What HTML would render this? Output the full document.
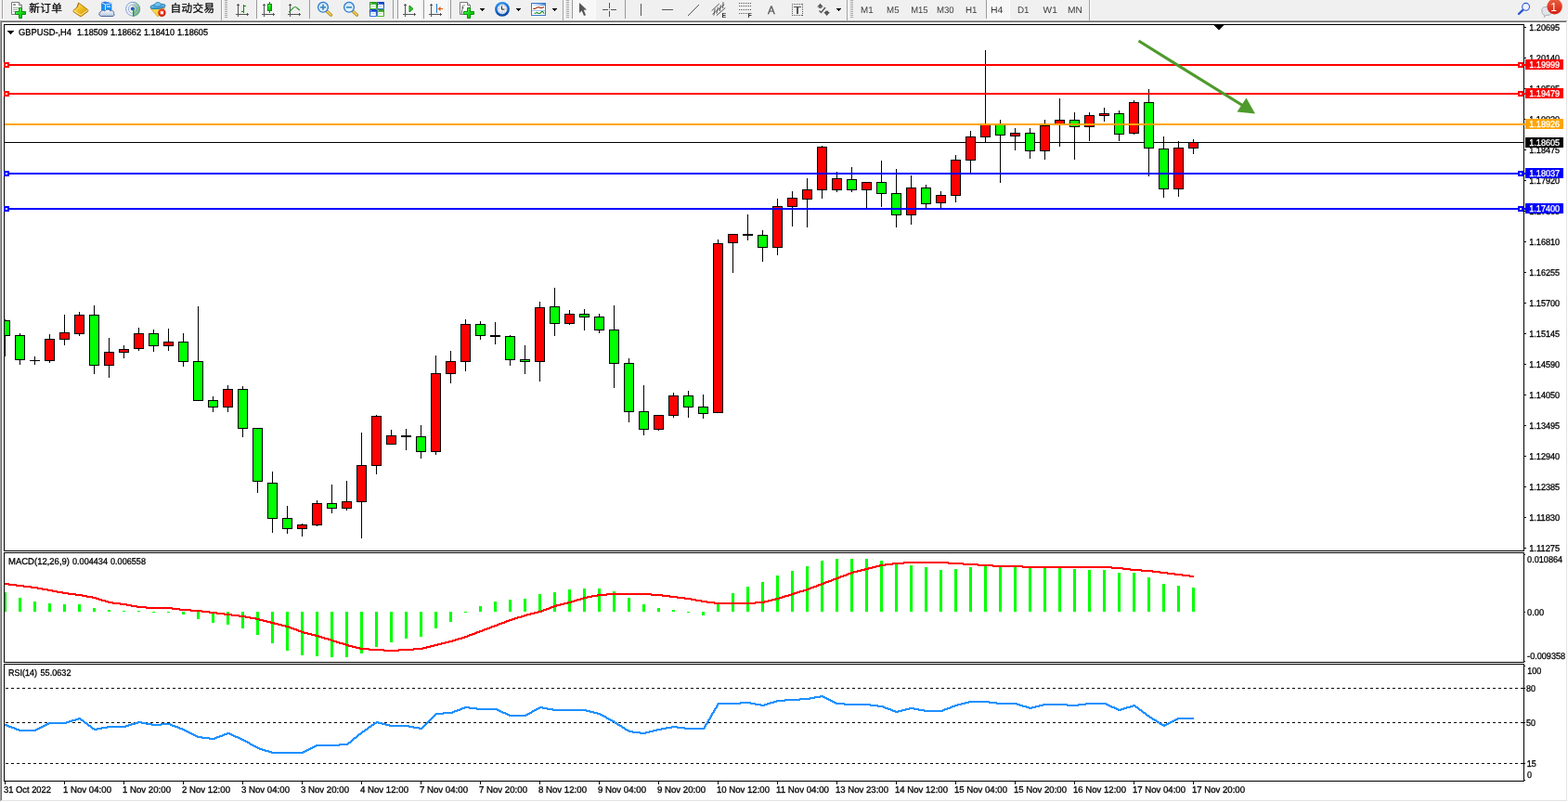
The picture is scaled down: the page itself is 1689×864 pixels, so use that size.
<!DOCTYPE html>
<html lang="zh-CN">
<head>
<meta charset="utf-8">
<title>GBPUSD-,H4</title>
<style>
html,body{margin:0;padding:0;background:#ffffff;overflow:hidden;}
body{width:1689px;height:864px;font-family:"Liberation Sans","Noto Sans CJK SC",sans-serif;}
svg{display:block;position:absolute;left:0;top:0;}
text{white-space:pre;}
</style>
</head>
<body>
<svg width="1689" height="864" viewBox="0 0 1689 864">
<g shape-rendering="crispEdges">
<rect x="0" y="0" width="1689" height="864" fill="#ffffff"/>
<rect x="0" y="0" width="1689" height="22" fill="#f0f0f0"/>
<rect x="0" y="21" width="1689" height="1" fill="#f6f6f6"/>
<rect x="0" y="22" width="1688" height="1" fill="#a0a0a0"/>
<rect x="1" y="23" width="1686" height="1" fill="#696969"/>
<rect x="0" y="22" width="1" height="842" fill="#a0a0a0"/>
<rect x="1" y="23" width="1" height="840" fill="#696969"/>
<rect x="1687" y="23" width="1" height="840" fill="#e3e3e3"/>
<rect x="1" y="862" width="1687" height="1" fill="#e3e3e3"/>
<rect x="1688" y="22" width="1" height="842" fill="#ffffff"/>
<rect x="0" y="863" width="1689" height="1" fill="#ffffff"/>
</g>
<g shape-rendering="crispEdges">
<rect x="5" y="153" width="1636" height="1" fill="#000"/>
<rect x="5" y="344" width="1" height="40" fill="#000"/>
<rect x="5" y="345" width="6" height="17" fill="#000"/>
<rect x="5" y="346" width="5" height="15" fill="#00ff00"/>
<rect x="21" y="359" width="1" height="34" fill="#000"/>
<rect x="16" y="361" width="11" height="27" fill="#000"/>
<rect x="17" y="362" width="9" height="25" fill="#00ff00"/>
<rect x="37" y="384" width="1" height="9" fill="#000"/>
<rect x="32" y="388" width="11" height="1" fill="#000"/>
<rect x="53" y="360" width="1" height="31" fill="#000"/>
<rect x="48" y="365" width="11" height="24" fill="#000"/>
<rect x="49" y="366" width="9" height="22" fill="#ff0000"/>
<rect x="69" y="339" width="1" height="33" fill="#000"/>
<rect x="64" y="358" width="11" height="8" fill="#000"/>
<rect x="65" y="359" width="9" height="6" fill="#ff0000"/>
<rect x="85" y="336" width="1" height="26" fill="#000"/>
<rect x="80" y="339" width="11" height="21" fill="#000"/>
<rect x="81" y="340" width="9" height="19" fill="#ff0000"/>
<rect x="101" y="329" width="1" height="74" fill="#000"/>
<rect x="96" y="339" width="11" height="55" fill="#000"/>
<rect x="97" y="340" width="9" height="53" fill="#00ff00"/>
<rect x="117" y="364" width="1" height="43" fill="#000"/>
<rect x="112" y="379" width="11" height="15" fill="#000"/>
<rect x="113" y="380" width="9" height="13" fill="#ff0000"/>
<rect x="133" y="372" width="1" height="14" fill="#000"/>
<rect x="128" y="376" width="11" height="4" fill="#000"/>
<rect x="129" y="377" width="9" height="2" fill="#ff0000"/>
<rect x="149" y="353" width="1" height="25" fill="#000"/>
<rect x="144" y="359" width="11" height="17" fill="#000"/>
<rect x="145" y="360" width="9" height="15" fill="#ff0000"/>
<rect x="165" y="355" width="1" height="24" fill="#000"/>
<rect x="160" y="359" width="11" height="14" fill="#000"/>
<rect x="161" y="360" width="9" height="12" fill="#00ff00"/>
<rect x="181" y="354" width="1" height="24" fill="#000"/>
<rect x="176" y="368" width="11" height="5" fill="#000"/>
<rect x="177" y="369" width="9" height="3" fill="#ff0000"/>
<rect x="197" y="359" width="1" height="36" fill="#000"/>
<rect x="192" y="368" width="11" height="22" fill="#000"/>
<rect x="193" y="369" width="9" height="20" fill="#00ff00"/>
<rect x="213" y="330" width="1" height="102" fill="#000"/>
<rect x="208" y="389" width="11" height="43" fill="#000"/>
<rect x="209" y="390" width="9" height="41" fill="#00ff00"/>
<rect x="229" y="427" width="1" height="17" fill="#000"/>
<rect x="224" y="431" width="11" height="8" fill="#000"/>
<rect x="225" y="432" width="9" height="6" fill="#00ff00"/>
<rect x="245" y="415" width="1" height="29" fill="#000"/>
<rect x="240" y="419" width="11" height="20" fill="#000"/>
<rect x="241" y="420" width="9" height="18" fill="#ff0000"/>
<rect x="261" y="416" width="1" height="55" fill="#000"/>
<rect x="256" y="419" width="11" height="43" fill="#000"/>
<rect x="257" y="420" width="9" height="41" fill="#00ff00"/>
<rect x="277" y="461" width="1" height="70" fill="#000"/>
<rect x="272" y="461" width="11" height="58" fill="#000"/>
<rect x="273" y="462" width="9" height="56" fill="#00ff00"/>
<rect x="293" y="508" width="1" height="66" fill="#000"/>
<rect x="288" y="520" width="11" height="39" fill="#000"/>
<rect x="289" y="521" width="9" height="37" fill="#00ff00"/>
<rect x="309" y="545" width="1" height="30" fill="#000"/>
<rect x="304" y="558" width="11" height="12" fill="#000"/>
<rect x="305" y="559" width="9" height="10" fill="#00ff00"/>
<rect x="325" y="564" width="1" height="14" fill="#000"/>
<rect x="320" y="565" width="11" height="5" fill="#000"/>
<rect x="321" y="566" width="9" height="3" fill="#ff0000"/>
<rect x="341" y="539" width="1" height="28" fill="#000"/>
<rect x="336" y="542" width="11" height="24" fill="#000"/>
<rect x="337" y="543" width="9" height="22" fill="#ff0000"/>
<rect x="357" y="522" width="1" height="31" fill="#000"/>
<rect x="352" y="542" width="11" height="6" fill="#000"/>
<rect x="353" y="543" width="9" height="4" fill="#00ff00"/>
<rect x="373" y="518" width="1" height="32" fill="#000"/>
<rect x="368" y="540" width="11" height="8" fill="#000"/>
<rect x="369" y="541" width="9" height="6" fill="#ff0000"/>
<rect x="389" y="466" width="1" height="114" fill="#000"/>
<rect x="384" y="501" width="11" height="40" fill="#000"/>
<rect x="385" y="502" width="9" height="38" fill="#ff0000"/>
<rect x="405" y="447" width="1" height="64" fill="#000"/>
<rect x="400" y="448" width="11" height="54" fill="#000"/>
<rect x="401" y="449" width="9" height="52" fill="#ff0000"/>
<rect x="421" y="463" width="1" height="16" fill="#000"/>
<rect x="416" y="469" width="11" height="10" fill="#000"/>
<rect x="417" y="470" width="9" height="8" fill="#ff0000"/>
<rect x="437" y="462" width="1" height="23" fill="#000"/>
<rect x="432" y="469" width="11" height="2" fill="#000"/>
<rect x="453" y="458" width="1" height="36" fill="#000"/>
<rect x="448" y="470" width="11" height="17" fill="#000"/>
<rect x="449" y="471" width="9" height="15" fill="#00ff00"/>
<rect x="469" y="383" width="1" height="107" fill="#000"/>
<rect x="464" y="402" width="11" height="85" fill="#000"/>
<rect x="465" y="403" width="9" height="83" fill="#ff0000"/>
<rect x="485" y="378" width="1" height="35" fill="#000"/>
<rect x="480" y="389" width="11" height="14" fill="#000"/>
<rect x="481" y="390" width="9" height="12" fill="#ff0000"/>
<rect x="501" y="344" width="1" height="56" fill="#000"/>
<rect x="496" y="349" width="11" height="41" fill="#000"/>
<rect x="497" y="350" width="9" height="39" fill="#ff0000"/>
<rect x="517" y="346" width="1" height="20" fill="#000"/>
<rect x="512" y="349" width="11" height="13" fill="#000"/>
<rect x="513" y="350" width="9" height="11" fill="#00ff00"/>
<rect x="533" y="347" width="1" height="24" fill="#000"/>
<rect x="528" y="361" width="11" height="2" fill="#000"/>
<rect x="549" y="361" width="1" height="33" fill="#000"/>
<rect x="544" y="362" width="11" height="26" fill="#000"/>
<rect x="545" y="363" width="9" height="24" fill="#00ff00"/>
<rect x="565" y="372" width="1" height="31" fill="#000"/>
<rect x="560" y="387" width="11" height="3" fill="#000"/>
<rect x="561" y="388" width="9" height="1" fill="#00ff00"/>
<rect x="581" y="325" width="1" height="86" fill="#000"/>
<rect x="576" y="331" width="11" height="59" fill="#000"/>
<rect x="577" y="332" width="9" height="57" fill="#ff0000"/>
<rect x="597" y="310" width="1" height="52" fill="#000"/>
<rect x="592" y="330" width="11" height="19" fill="#000"/>
<rect x="593" y="331" width="9" height="17" fill="#00ff00"/>
<rect x="613" y="334" width="1" height="16" fill="#000"/>
<rect x="608" y="338" width="11" height="11" fill="#000"/>
<rect x="609" y="339" width="9" height="9" fill="#ff0000"/>
<rect x="629" y="333" width="1" height="23" fill="#000"/>
<rect x="624" y="338" width="11" height="4" fill="#000"/>
<rect x="625" y="339" width="9" height="2" fill="#00ff00"/>
<rect x="645" y="338" width="1" height="21" fill="#000"/>
<rect x="640" y="341" width="11" height="15" fill="#000"/>
<rect x="641" y="342" width="9" height="13" fill="#00ff00"/>
<rect x="661" y="329" width="1" height="89" fill="#000"/>
<rect x="656" y="355" width="11" height="37" fill="#000"/>
<rect x="657" y="356" width="9" height="35" fill="#00ff00"/>
<rect x="677" y="386" width="1" height="69" fill="#000"/>
<rect x="672" y="391" width="11" height="53" fill="#000"/>
<rect x="673" y="392" width="9" height="51" fill="#00ff00"/>
<rect x="693" y="415" width="1" height="54" fill="#000"/>
<rect x="688" y="443" width="11" height="20" fill="#000"/>
<rect x="689" y="444" width="9" height="18" fill="#00ff00"/>
<rect x="709" y="447" width="1" height="17" fill="#000"/>
<rect x="704" y="447" width="11" height="16" fill="#000"/>
<rect x="705" y="448" width="9" height="14" fill="#ff0000"/>
<rect x="725" y="423" width="1" height="27" fill="#000"/>
<rect x="720" y="426" width="11" height="22" fill="#000"/>
<rect x="721" y="427" width="9" height="20" fill="#ff0000"/>
<rect x="741" y="421" width="1" height="29" fill="#000"/>
<rect x="736" y="426" width="11" height="13" fill="#000"/>
<rect x="737" y="427" width="9" height="11" fill="#00ff00"/>
<rect x="757" y="425" width="1" height="26" fill="#000"/>
<rect x="752" y="438" width="11" height="8" fill="#000"/>
<rect x="753" y="439" width="9" height="6" fill="#00ff00"/>
<rect x="773" y="258" width="1" height="187" fill="#000"/>
<rect x="768" y="262" width="11" height="183" fill="#000"/>
<rect x="769" y="263" width="9" height="181" fill="#ff0000"/>
<rect x="789" y="252" width="1" height="42" fill="#000"/>
<rect x="784" y="252" width="11" height="10" fill="#000"/>
<rect x="785" y="253" width="9" height="8" fill="#ff0000"/>
<rect x="805" y="231" width="1" height="28" fill="#000"/>
<rect x="800" y="252" width="11" height="2" fill="#000"/>
<rect x="821" y="248" width="1" height="34" fill="#000"/>
<rect x="816" y="253" width="11" height="14" fill="#000"/>
<rect x="817" y="254" width="9" height="12" fill="#00ff00"/>
<rect x="837" y="214" width="1" height="61" fill="#000"/>
<rect x="832" y="222" width="11" height="45" fill="#000"/>
<rect x="833" y="223" width="9" height="43" fill="#ff0000"/>
<rect x="853" y="206" width="1" height="38" fill="#000"/>
<rect x="848" y="213" width="11" height="10" fill="#000"/>
<rect x="849" y="214" width="9" height="8" fill="#ff0000"/>
<rect x="869" y="192" width="1" height="53" fill="#000"/>
<rect x="864" y="204" width="11" height="11" fill="#000"/>
<rect x="865" y="205" width="9" height="9" fill="#ff0000"/>
<rect x="885" y="157" width="1" height="57" fill="#000"/>
<rect x="880" y="158" width="11" height="47" fill="#000"/>
<rect x="881" y="159" width="9" height="45" fill="#ff0000"/>
<rect x="901" y="185" width="1" height="22" fill="#000"/>
<rect x="896" y="192" width="11" height="13" fill="#000"/>
<rect x="897" y="193" width="9" height="11" fill="#ff0000"/>
<rect x="917" y="180" width="1" height="27" fill="#000"/>
<rect x="912" y="193" width="11" height="12" fill="#000"/>
<rect x="913" y="194" width="9" height="10" fill="#00ff00"/>
<rect x="933" y="196" width="1" height="28" fill="#000"/>
<rect x="928" y="196" width="11" height="9" fill="#000"/>
<rect x="929" y="197" width="9" height="7" fill="#ff0000"/>
<rect x="949" y="173" width="1" height="50" fill="#000"/>
<rect x="944" y="196" width="11" height="13" fill="#000"/>
<rect x="945" y="197" width="9" height="11" fill="#00ff00"/>
<rect x="965" y="182" width="1" height="63" fill="#000"/>
<rect x="960" y="208" width="11" height="24" fill="#000"/>
<rect x="961" y="209" width="9" height="22" fill="#00ff00"/>
<rect x="981" y="189" width="1" height="53" fill="#000"/>
<rect x="976" y="202" width="11" height="30" fill="#000"/>
<rect x="977" y="203" width="9" height="28" fill="#ff0000"/>
<rect x="997" y="199" width="1" height="25" fill="#000"/>
<rect x="992" y="202" width="11" height="18" fill="#000"/>
<rect x="993" y="203" width="9" height="16" fill="#00ff00"/>
<rect x="1013" y="206" width="1" height="18" fill="#000"/>
<rect x="1008" y="210" width="11" height="9" fill="#000"/>
<rect x="1009" y="211" width="9" height="7" fill="#ff0000"/>
<rect x="1029" y="167" width="1" height="51" fill="#000"/>
<rect x="1024" y="172" width="11" height="39" fill="#000"/>
<rect x="1025" y="173" width="9" height="37" fill="#ff0000"/>
<rect x="1045" y="141" width="1" height="45" fill="#000"/>
<rect x="1040" y="147" width="11" height="26" fill="#000"/>
<rect x="1041" y="148" width="9" height="24" fill="#ff0000"/>
<rect x="1061" y="54" width="1" height="99" fill="#000"/>
<rect x="1056" y="134" width="11" height="14" fill="#000"/>
<rect x="1057" y="135" width="9" height="12" fill="#ff0000"/>
<rect x="1077" y="129" width="1" height="68" fill="#000"/>
<rect x="1072" y="134" width="11" height="12" fill="#000"/>
<rect x="1073" y="135" width="9" height="10" fill="#00ff00"/>
<rect x="1093" y="138" width="1" height="24" fill="#000"/>
<rect x="1088" y="143" width="11" height="4" fill="#000"/>
<rect x="1089" y="144" width="9" height="2" fill="#ff0000"/>
<rect x="1109" y="138" width="1" height="33" fill="#000"/>
<rect x="1104" y="143" width="11" height="20" fill="#000"/>
<rect x="1105" y="144" width="9" height="18" fill="#00ff00"/>
<rect x="1125" y="129" width="1" height="43" fill="#000"/>
<rect x="1120" y="135" width="11" height="28" fill="#000"/>
<rect x="1121" y="136" width="9" height="26" fill="#ff0000"/>
<rect x="1141" y="106" width="1" height="52" fill="#000"/>
<rect x="1136" y="129" width="11" height="6" fill="#000"/>
<rect x="1137" y="130" width="9" height="4" fill="#ff0000"/>
<rect x="1157" y="121" width="1" height="51" fill="#000"/>
<rect x="1152" y="129" width="11" height="8" fill="#000"/>
<rect x="1153" y="130" width="9" height="6" fill="#00ff00"/>
<rect x="1173" y="121" width="1" height="31" fill="#000"/>
<rect x="1168" y="124" width="11" height="13" fill="#000"/>
<rect x="1169" y="125" width="9" height="11" fill="#ff0000"/>
<rect x="1189" y="116" width="1" height="15" fill="#000"/>
<rect x="1184" y="122" width="11" height="3" fill="#000"/>
<rect x="1185" y="123" width="9" height="1" fill="#ff0000"/>
<rect x="1205" y="119" width="1" height="33" fill="#000"/>
<rect x="1200" y="122" width="11" height="23" fill="#000"/>
<rect x="1201" y="123" width="9" height="21" fill="#00ff00"/>
<rect x="1221" y="108" width="1" height="37" fill="#000"/>
<rect x="1216" y="110" width="11" height="34" fill="#000"/>
<rect x="1217" y="111" width="9" height="32" fill="#ff0000"/>
<rect x="1237" y="96" width="1" height="94" fill="#000"/>
<rect x="1232" y="110" width="11" height="50" fill="#000"/>
<rect x="1233" y="111" width="9" height="48" fill="#00ff00"/>
<rect x="1253" y="147" width="1" height="66" fill="#000"/>
<rect x="1248" y="160" width="11" height="44" fill="#000"/>
<rect x="1249" y="161" width="9" height="42" fill="#00ff00"/>
<rect x="1269" y="152" width="1" height="60" fill="#000"/>
<rect x="1264" y="159" width="11" height="45" fill="#000"/>
<rect x="1265" y="160" width="9" height="43" fill="#ff0000"/>
<rect x="1285" y="150" width="1" height="16" fill="#000"/>
<rect x="1280" y="153" width="11" height="7" fill="#000"/>
<rect x="1281" y="154" width="9" height="5" fill="#ff0000"/>
<rect x="4" y="26" width="1638" height="1" fill="#000"/>
<rect x="4" y="593" width="1638" height="1" fill="#000"/>
<rect x="4" y="26" width="1" height="568" fill="#000"/>
<rect x="1641" y="26" width="1" height="568" fill="#000"/>
<rect x="4" y="595" width="1638" height="1" fill="#000"/>
<rect x="4" y="713" width="1638" height="1" fill="#000"/>
<rect x="4" y="595" width="1" height="119" fill="#000"/>
<rect x="1641" y="595" width="1" height="119" fill="#000"/>
<rect x="4" y="715" width="1638" height="1" fill="#000"/>
<rect x="4" y="841" width="1638" height="1" fill="#000"/>
<rect x="4" y="715" width="1" height="127" fill="#000"/>
<rect x="1641" y="715" width="1" height="127" fill="#000"/>
<rect x="1308" y="27" width="10" height="1" fill="#000"/>
<rect x="1309" y="28" width="8" height="1" fill="#000"/>
<rect x="1310" y="29" width="6" height="1" fill="#000"/>
<rect x="1311" y="30" width="4" height="1" fill="#000"/>
<rect x="1312" y="31" width="2" height="1" fill="#000"/>
<rect x="8" y="33" width="7" height="1" fill="#000"/>
<rect x="9" y="34" width="5" height="1" fill="#000"/>
<rect x="10" y="35" width="3" height="1" fill="#000"/>
<rect x="11" y="36" width="1" height="1" fill="#000"/>
<rect x="5" y="69" width="1638" height="2" fill="#ff0000"/>
<rect x="4" y="67" width="6" height="6" fill="#ff0000"/>
<rect x="6" y="69" width="2" height="2" fill="#fff"/>
<rect x="1635" y="67" width="6" height="6" fill="#ff0000"/>
<rect x="1637" y="69" width="2" height="2" fill="#fff"/>
<rect x="5" y="100" width="1638" height="2" fill="#ff0000"/>
<rect x="4" y="98" width="6" height="6" fill="#ff0000"/>
<rect x="6" y="100" width="2" height="2" fill="#fff"/>
<rect x="1635" y="98" width="6" height="6" fill="#ff0000"/>
<rect x="1637" y="100" width="2" height="2" fill="#fff"/>
<rect x="5" y="133" width="1638" height="2" fill="#ffa500"/>
<rect x="5" y="186" width="1638" height="2" fill="#0000ff"/>
<rect x="4" y="184" width="6" height="6" fill="#0000ff"/>
<rect x="6" y="186" width="2" height="2" fill="#fff"/>
<rect x="1635" y="184" width="6" height="6" fill="#0000ff"/>
<rect x="1637" y="186" width="2" height="2" fill="#fff"/>
<rect x="5" y="224" width="1638" height="2" fill="#0000ff"/>
<rect x="4" y="222" width="6" height="6" fill="#0000ff"/>
<rect x="6" y="224" width="2" height="2" fill="#fff"/>
<rect x="1635" y="222" width="6" height="6" fill="#0000ff"/>
<rect x="1637" y="224" width="2" height="2" fill="#fff"/>
<rect x="1642" y="29" width="2" height="1" fill="#000"/>
<rect x="1642" y="62" width="2" height="1" fill="#000"/>
<rect x="1642" y="95" width="2" height="1" fill="#000"/>
<rect x="1642" y="128" width="2" height="1" fill="#000"/>
<rect x="1642" y="161" width="2" height="1" fill="#000"/>
<rect x="1642" y="194" width="2" height="1" fill="#000"/>
<rect x="1642" y="227" width="2" height="1" fill="#000"/>
<rect x="1642" y="260" width="2" height="1" fill="#000"/>
<rect x="1642" y="293" width="2" height="1" fill="#000"/>
<rect x="1642" y="326" width="2" height="1" fill="#000"/>
<rect x="1642" y="359" width="2" height="1" fill="#000"/>
<rect x="1642" y="392" width="2" height="1" fill="#000"/>
<rect x="1642" y="425" width="2" height="1" fill="#000"/>
<rect x="1642" y="458" width="2" height="1" fill="#000"/>
<rect x="1642" y="491" width="2" height="1" fill="#000"/>
<rect x="1642" y="524" width="2" height="1" fill="#000"/>
<rect x="1642" y="557" width="2" height="1" fill="#000"/>
<rect x="1642" y="590" width="2" height="1" fill="#000"/>
</g>
<g font-family='"Liberation Sans", sans-serif' text-rendering="geometricPrecision">
<text x="1647.2" y="33" font-size="9.8" fill="#000" stroke="#000" stroke-width="0.3" textLength="33" lengthAdjust="spacingAndGlyphs">1.20695</text>
<text x="1647.2" y="66" font-size="9.8" fill="#000" stroke="#000" stroke-width="0.3" textLength="33" lengthAdjust="spacingAndGlyphs">1.20140</text>
<text x="1647.2" y="99" font-size="9.8" fill="#000" stroke="#000" stroke-width="0.3" textLength="33" lengthAdjust="spacingAndGlyphs">1.19585</text>
<text x="1647.2" y="132" font-size="9.8" fill="#000" stroke="#000" stroke-width="0.3" textLength="33" lengthAdjust="spacingAndGlyphs">1.19030</text>
<text x="1647.2" y="165" font-size="9.8" fill="#000" stroke="#000" stroke-width="0.3" textLength="33" lengthAdjust="spacingAndGlyphs">1.18475</text>
<text x="1647.2" y="198" font-size="9.8" fill="#000" stroke="#000" stroke-width="0.3" textLength="33" lengthAdjust="spacingAndGlyphs">1.17920</text>
<text x="1647.2" y="231" font-size="9.8" fill="#000" stroke="#000" stroke-width="0.3" textLength="33" lengthAdjust="spacingAndGlyphs">1.17365</text>
<text x="1647.2" y="264" font-size="9.8" fill="#000" stroke="#000" stroke-width="0.3" textLength="33" lengthAdjust="spacingAndGlyphs">1.16810</text>
<text x="1647.2" y="297" font-size="9.8" fill="#000" stroke="#000" stroke-width="0.3" textLength="33" lengthAdjust="spacingAndGlyphs">1.16255</text>
<text x="1647.2" y="330" font-size="9.8" fill="#000" stroke="#000" stroke-width="0.3" textLength="33" lengthAdjust="spacingAndGlyphs">1.15700</text>
<text x="1647.2" y="363" font-size="9.8" fill="#000" stroke="#000" stroke-width="0.3" textLength="33" lengthAdjust="spacingAndGlyphs">1.15145</text>
<text x="1647.2" y="396" font-size="9.8" fill="#000" stroke="#000" stroke-width="0.3" textLength="33" lengthAdjust="spacingAndGlyphs">1.14590</text>
<text x="1647.2" y="429" font-size="9.8" fill="#000" stroke="#000" stroke-width="0.3" textLength="33" lengthAdjust="spacingAndGlyphs">1.14050</text>
<text x="1647.2" y="462" font-size="9.8" fill="#000" stroke="#000" stroke-width="0.3" textLength="33" lengthAdjust="spacingAndGlyphs">1.13495</text>
<text x="1647.2" y="495" font-size="9.8" fill="#000" stroke="#000" stroke-width="0.3" textLength="33" lengthAdjust="spacingAndGlyphs">1.12940</text>
<text x="1647.2" y="528" font-size="9.8" fill="#000" stroke="#000" stroke-width="0.3" textLength="33" lengthAdjust="spacingAndGlyphs">1.12385</text>
<text x="1647.2" y="561" font-size="9.8" fill="#000" stroke="#000" stroke-width="0.3" textLength="33" lengthAdjust="spacingAndGlyphs">1.11830</text>
<text x="1647.2" y="594" font-size="9.8" fill="#000" stroke="#000" stroke-width="0.3" textLength="33" lengthAdjust="spacingAndGlyphs">1.11275</text>
<rect x="1643" y="64" width="41" height="11" fill="#ff0000" shape-rendering="crispEdges"/>
<text x="1647.2" y="73" font-size="9.8" fill="#fff" stroke="#fff" stroke-width="0.3" textLength="33" lengthAdjust="spacingAndGlyphs">1.19999</text>
<rect x="1643" y="95" width="41" height="11" fill="#ff0000" shape-rendering="crispEdges"/>
<text x="1647.2" y="104" font-size="9.8" fill="#fff" stroke="#fff" stroke-width="0.3" textLength="33" lengthAdjust="spacingAndGlyphs">1.19479</text>
<rect x="1643" y="128" width="41" height="11" fill="#ffa500" shape-rendering="crispEdges"/>
<text x="1647.2" y="137" font-size="9.8" fill="#fff" stroke="#fff" stroke-width="0.3" textLength="33" lengthAdjust="spacingAndGlyphs">1.18926</text>
<rect x="1643" y="181" width="41" height="11" fill="#0000ff" shape-rendering="crispEdges"/>
<text x="1647.2" y="190" font-size="9.8" fill="#fff" stroke="#fff" stroke-width="0.3" textLength="33" lengthAdjust="spacingAndGlyphs">1.18037</text>
<rect x="1643" y="219" width="41" height="11" fill="#0000ff" shape-rendering="crispEdges"/>
<text x="1647.2" y="228" font-size="9.8" fill="#fff" stroke="#fff" stroke-width="0.3" textLength="33" lengthAdjust="spacingAndGlyphs">1.17400</text>
<rect x="1643" y="148" width="41" height="11" fill="#000" shape-rendering="crispEdges"/>
<text x="1647.2" y="157" font-size="9.8" fill="#fff" stroke="#fff" stroke-width="0.3" textLength="33" lengthAdjust="spacingAndGlyphs">1.18605</text>
<text y="38" font-size="9.8" fill="#000" stroke="#000" stroke-width="0.3"><tspan x="20" textLength="57" lengthAdjust="spacingAndGlyphs">GBPUSD-,H4</tspan><tspan x="77" textLength="6" lengthAdjust="spacingAndGlyphs">  </tspan><tspan x="83" textLength="33" lengthAdjust="spacingAndGlyphs">1.18509</tspan><tspan x="116" textLength="3" lengthAdjust="spacingAndGlyphs"> </tspan><tspan x="119" textLength="33" lengthAdjust="spacingAndGlyphs">1.18662</tspan><tspan x="152" textLength="3" lengthAdjust="spacingAndGlyphs"> </tspan><tspan x="155" textLength="33" lengthAdjust="spacingAndGlyphs">1.18410</tspan><tspan x="188" textLength="3" lengthAdjust="spacingAndGlyphs"> </tspan><tspan x="191" textLength="33" lengthAdjust="spacingAndGlyphs">1.18605</tspan></text>
<text y="608" font-size="9.8" fill="#000" stroke="#000" stroke-width="0.3"><tspan x="9" textLength="66" lengthAdjust="spacingAndGlyphs">MACD(12,26,9)</tspan><tspan x="75" textLength="3" lengthAdjust="spacingAndGlyphs"> </tspan><tspan x="78" textLength="38" lengthAdjust="spacingAndGlyphs">0.004434</tspan><tspan x="116" textLength="3" lengthAdjust="spacingAndGlyphs"> </tspan><tspan x="119" textLength="38" lengthAdjust="spacingAndGlyphs">0.006558</tspan></text>
<text y="728" font-size="9.8" fill="#000" stroke="#000" stroke-width="0.3"><tspan x="9" textLength="31" lengthAdjust="spacingAndGlyphs">RSI(14)</tspan><tspan x="40" textLength="3.5" lengthAdjust="spacingAndGlyphs"> </tspan><tspan x="43.5" textLength="33" lengthAdjust="spacingAndGlyphs">55.0632</tspan></text>
</g>
<g><line x1="1226.5" y1="44" x2="1340" y2="114.5" stroke="#4e9a2d" stroke-width="3.2"/><polygon points="1342.5,105.5 1332.5,120.5 1352,122.5" fill="#4e9a2d"/></g>
<g shape-rendering="crispEdges">
<rect x="5" y="638" width="2" height="21" fill="#00ff00"/>
<rect x="20" y="644" width="3" height="15" fill="#00ff00"/>
<rect x="36" y="648" width="3" height="11" fill="#00ff00"/>
<rect x="52" y="650" width="3" height="9" fill="#00ff00"/>
<rect x="68" y="651" width="3" height="8" fill="#00ff00"/>
<rect x="84" y="651" width="3" height="8" fill="#00ff00"/>
<rect x="100" y="655" width="3" height="4" fill="#00ff00"/>
<rect x="116" y="657" width="3" height="2" fill="#00ff00"/>
<rect x="132" y="658" width="3" height="1" fill="#00ff00"/>
<rect x="148" y="658" width="3" height="1" fill="#00ff00"/>
<rect x="164" y="659" width="3" height="1" fill="#00ff00"/>
<rect x="180" y="659" width="3" height="1" fill="#00ff00"/>
<rect x="196" y="659" width="3" height="3" fill="#00ff00"/>
<rect x="212" y="659" width="3" height="8" fill="#00ff00"/>
<rect x="228" y="659" width="3" height="12" fill="#00ff00"/>
<rect x="244" y="659" width="3" height="14" fill="#00ff00"/>
<rect x="260" y="659" width="3" height="18" fill="#00ff00"/>
<rect x="276" y="659" width="3" height="25" fill="#00ff00"/>
<rect x="292" y="659" width="3" height="34" fill="#00ff00"/>
<rect x="308" y="659" width="3" height="42" fill="#00ff00"/>
<rect x="324" y="659" width="3" height="47" fill="#00ff00"/>
<rect x="340" y="659" width="3" height="48" fill="#00ff00"/>
<rect x="356" y="659" width="3" height="49" fill="#00ff00"/>
<rect x="372" y="659" width="3" height="49" fill="#00ff00"/>
<rect x="388" y="659" width="3" height="45" fill="#00ff00"/>
<rect x="404" y="659" width="3" height="38" fill="#00ff00"/>
<rect x="420" y="659" width="3" height="33" fill="#00ff00"/>
<rect x="436" y="659" width="3" height="29" fill="#00ff00"/>
<rect x="452" y="659" width="3" height="27" fill="#00ff00"/>
<rect x="468" y="659" width="3" height="18" fill="#00ff00"/>
<rect x="484" y="659" width="3" height="11" fill="#00ff00"/>
<rect x="500" y="659" width="3" height="1" fill="#00ff00"/>
<rect x="516" y="653" width="3" height="6" fill="#00ff00"/>
<rect x="532" y="648" width="3" height="11" fill="#00ff00"/>
<rect x="548" y="646" width="3" height="13" fill="#00ff00"/>
<rect x="564" y="645" width="3" height="14" fill="#00ff00"/>
<rect x="580" y="640" width="3" height="19" fill="#00ff00"/>
<rect x="596" y="638" width="3" height="21" fill="#00ff00"/>
<rect x="612" y="635" width="3" height="24" fill="#00ff00"/>
<rect x="628" y="634" width="3" height="25" fill="#00ff00"/>
<rect x="644" y="634" width="3" height="25" fill="#00ff00"/>
<rect x="660" y="637" width="3" height="22" fill="#00ff00"/>
<rect x="676" y="644" width="3" height="15" fill="#00ff00"/>
<rect x="692" y="651" width="3" height="8" fill="#00ff00"/>
<rect x="708" y="655" width="3" height="4" fill="#00ff00"/>
<rect x="724" y="657" width="3" height="2" fill="#00ff00"/>
<rect x="740" y="659" width="3" height="1" fill="#00ff00"/>
<rect x="756" y="659" width="3" height="4" fill="#00ff00"/>
<rect x="772" y="651" width="3" height="8" fill="#00ff00"/>
<rect x="788" y="639" width="3" height="20" fill="#00ff00"/>
<rect x="804" y="632" width="3" height="27" fill="#00ff00"/>
<rect x="820" y="627" width="3" height="32" fill="#00ff00"/>
<rect x="836" y="620" width="3" height="39" fill="#00ff00"/>
<rect x="852" y="615" width="3" height="44" fill="#00ff00"/>
<rect x="868" y="610" width="3" height="49" fill="#00ff00"/>
<rect x="884" y="604" width="3" height="55" fill="#00ff00"/>
<rect x="900" y="602" width="3" height="57" fill="#00ff00"/>
<rect x="916" y="602" width="3" height="57" fill="#00ff00"/>
<rect x="932" y="602" width="3" height="57" fill="#00ff00"/>
<rect x="948" y="604" width="3" height="55" fill="#00ff00"/>
<rect x="964" y="608" width="3" height="51" fill="#00ff00"/>
<rect x="980" y="609" width="3" height="50" fill="#00ff00"/>
<rect x="996" y="611" width="3" height="48" fill="#00ff00"/>
<rect x="1012" y="614" width="3" height="45" fill="#00ff00"/>
<rect x="1028" y="613" width="3" height="46" fill="#00ff00"/>
<rect x="1044" y="611" width="3" height="48" fill="#00ff00"/>
<rect x="1060" y="610" width="3" height="49" fill="#00ff00"/>
<rect x="1076" y="610" width="3" height="49" fill="#00ff00"/>
<rect x="1092" y="609" width="3" height="50" fill="#00ff00"/>
<rect x="1108" y="612" width="3" height="47" fill="#00ff00"/>
<rect x="1124" y="612" width="3" height="47" fill="#00ff00"/>
<rect x="1140" y="612" width="3" height="47" fill="#00ff00"/>
<rect x="1156" y="613" width="3" height="46" fill="#00ff00"/>
<rect x="1172" y="614" width="3" height="45" fill="#00ff00"/>
<rect x="1188" y="614" width="3" height="45" fill="#00ff00"/>
<rect x="1204" y="617" width="3" height="42" fill="#00ff00"/>
<rect x="1220" y="617" width="3" height="42" fill="#00ff00"/>
<rect x="1236" y="622" width="3" height="37" fill="#00ff00"/>
<rect x="1252" y="629" width="3" height="30" fill="#00ff00"/>
<rect x="1268" y="631" width="3" height="28" fill="#00ff00"/>
<rect x="1284" y="633" width="3" height="26" fill="#00ff00"/>
<path d="M973,605h49v1h-49zM961,606h77v1h-77zM953,607h21v1h-21zM1021,607h33v1h-33zM947,608h15v1h-15zM1037,608h33v1h-33zM943,609h11v1h-11zM1053,609h49v1h-49zM939,610h9v1h-9zM1069,610h129v1h-129zM935,611h9v1h-9zM1101,611h109v1h-109zM931,612h9v1h-9zM1197,612h21v1h-21zM927,613h9v1h-9zM1209,613h21v1h-21zM923,614h9v1h-9zM1217,614h25v1h-25zM919,615h9v1h-9zM1229,615h21v1h-21zM916,616h8v1h-8zM1241,616h17v1h-17zM913,617h7v1h-7zM1249,617h17v1h-17zM911,618h6v1h-6zM1257,618h17v1h-17zM908,619h6v1h-6zM1265,619h17v1h-17zM905,620h7v1h-7zM1273,620h13v1h-13zM903,621h6v1h-6zM1281,621h5v1h-5zM900,622h6v1h-6zM897,623h7v1h-7zM895,624h6v1h-6zM892,625h6v1h-6zM889,626h7v1h-7zM887,627h6v1h-6zM5,628h5v1h-5zM884,628h6v1h-6zM5,629h13v1h-13zM881,629h7v1h-7zM9,630h17v1h-17zM879,630h6v1h-6zM17,631h17v1h-17zM876,631h6v1h-6zM25,632h16v1h-16zM873,632h7v1h-7zM33,633h13v1h-13zM871,633h6v1h-6zM40,634h12v1h-12zM868,634h6v1h-6zM45,635h12v1h-12zM865,635h7v1h-7zM51,636h11v1h-11zM861,636h8v1h-8zM56,637h12v1h-12zM858,637h8v1h-8zM61,638h13v1h-13zM855,638h7v1h-7zM67,639h15v1h-15zM653,639h49v1h-49zM852,639h7v1h-7zM73,640h16v1h-16zM643,640h71v1h-71zM849,640h7v1h-7zM81,641h13v1h-13zM637,641h17v1h-17zM701,641h21v1h-21zM845,641h8v1h-8zM88,642h12v1h-12zM632,642h12v1h-12zM713,642h17v1h-17zM842,642h8v1h-8zM93,643h11v1h-11zM628,643h10v1h-10zM721,643h17v1h-17zM839,643h7v1h-7zM99,644h8v1h-8zM625,644h8v1h-8zM729,644h16v1h-16zM835,644h8v1h-8zM103,645h7v1h-7zM621,645h8v1h-8zM737,645h13v1h-13zM831,645h9v1h-9zM106,646h8v1h-8zM618,646h8v1h-8zM744,646h12v1h-12zM827,646h9v1h-9zM109,647h8v1h-8zM615,647h7v1h-7zM749,647h13v1h-13zM823,647h9v1h-9zM113,648h9v1h-9zM611,648h8v1h-8zM755,648h15v1h-15zM813,648h15v1h-15zM116,649h14v1h-14zM607,649h9v1h-9zM761,649h63v1h-63zM121,650h16v1h-16zM603,650h9v1h-9zM769,650h45v1h-45zM129,651h13v1h-13zM599,651h9v1h-9zM136,652h12v1h-12zM596,652h8v1h-8zM141,653h17v1h-17zM593,653h7v1h-7zM147,654h39v1h-39zM591,654h6v1h-6zM157,655h37v1h-37zM588,655h6v1h-6zM185,656h21v1h-21zM585,656h7v1h-7zM193,657h25v1h-25zM583,657h6v1h-6zM205,658h21v1h-21zM579,658h7v1h-7zM217,659h17v1h-17zM575,659h9v1h-9zM225,660h17v1h-17zM571,660h9v1h-9zM233,661h17v1h-17zM567,661h9v1h-9zM241,662h17v1h-17zM564,662h8v1h-8zM249,663h16v1h-16zM561,663h7v1h-7zM257,664h13v1h-13zM557,664h8v1h-8zM264,665h12v1h-12zM554,665h8v1h-8zM269,666h11v1h-11zM551,666h7v1h-7zM275,667h9v1h-9zM548,667h7v1h-7zM279,668h9v1h-9zM545,668h7v1h-7zM283,669h9v1h-9zM543,669h6v1h-6zM287,670h9v1h-9zM540,670h6v1h-6zM291,671h9v1h-9zM537,671h7v1h-7zM295,672h9v1h-9zM535,672h6v1h-6zM299,673h9v1h-9zM532,673h6v1h-6zM303,674h9v1h-9zM529,674h7v1h-7zM307,675h7v1h-7zM527,675h6v1h-6zM311,676h6v1h-6zM524,676h6v1h-6zM313,677h7v1h-7zM521,677h7v1h-7zM316,678h6v1h-6zM519,678h6v1h-6zM319,679h6v1h-6zM516,679h6v1h-6zM321,680h7v1h-7zM513,680h7v1h-7zM324,681h8v1h-8zM511,681h6v1h-6zM327,682h9v1h-9zM508,682h6v1h-6zM331,683h9v1h-9zM505,683h7v1h-7zM335,684h9v1h-9zM503,684h6v1h-6zM339,685h8v1h-8zM500,685h6v1h-6zM343,686h7v1h-7zM497,686h7v1h-7zM346,687h8v1h-8zM493,687h8v1h-8zM349,688h8v1h-8zM490,688h8v1h-8zM353,689h7v1h-7zM487,689h7v1h-7zM356,690h7v1h-7zM483,690h8v1h-8zM359,691h7v1h-7zM479,691h9v1h-9zM362,692h8v1h-8zM475,692h9v1h-9zM365,693h8v1h-8zM471,693h9v1h-9zM369,694h7v1h-7zM467,694h9v1h-9zM372,695h8v1h-8zM463,695h9v1h-9zM375,696h9v1h-9zM459,696h9v1h-9zM379,697h9v1h-9zM455,697h9v1h-9zM383,698h15v1h-15zM445,698h15v1h-15zM387,699h27v1h-27zM429,699h27v1h-27zM397,700h49v1h-49zM413,701h17v1h-17z" fill="#ff0000"/>
<rect x="1642" y="597" width="1" height="1" fill="#000"/>
<rect x="1642" y="659" width="1" height="1" fill="#000"/>
<rect x="1642" y="712" width="1" height="1" fill="#000"/>
</g>
<g font-family='"Liberation Sans", sans-serif' text-rendering="geometricPrecision">
<text x="1645.1" y="606" font-size="9.8" fill="#000" stroke="#000" stroke-width="0.3" textLength="38" lengthAdjust="spacingAndGlyphs">0.010864</text>
<text x="1645.1" y="663" font-size="9.8" fill="#000" stroke="#000" stroke-width="0.3" textLength="18" lengthAdjust="spacingAndGlyphs">0.00</text>
<text x="1645.1" y="710" font-size="9.8" fill="#000" stroke="#000" stroke-width="0.3" textLength="41" lengthAdjust="spacingAndGlyphs">-0.009358</text>
</g>
<g shape-rendering="crispEdges">
<line x1="6" y1="741.5" x2="1641" y2="741.5" stroke="#000" stroke-width="1" stroke-dasharray="3 3"/>
<rect x="1642" y="741" width="1" height="1" fill="#000"/>
<line x1="6" y1="778.5" x2="1641" y2="778.5" stroke="#000" stroke-width="1" stroke-dasharray="3 3"/>
<rect x="1642" y="778" width="1" height="1" fill="#000"/>
<line x1="6" y1="822.5" x2="1641" y2="822.5" stroke="#000" stroke-width="1" stroke-dasharray="3 3"/>
<rect x="1642" y="822" width="1" height="1" fill="#000"/>
<rect x="1642" y="717" width="1" height="1" fill="#000"/>
<rect x="1642" y="840" width="1" height="1" fill="#000"/>
<path d="M883,749h4v1h-4zM877,750h12v1h-12zM872,751h12v1h-12zM886,751h5v1h-5zM861,752h17v1h-17zM888,752h5v1h-5zM845,753h28v1h-28zM890,753h5v1h-5zM836,754h26v1h-26zM892,754h5v1h-5zM833,755h13v1h-13zM894,755h5v1h-5zM1043,755h23v1h-23zM797,756h12v1h-12zM829,756h8v1h-8zM896,756h5v1h-5zM1039,756h35v1h-35zM773,757h41v1h-41zM826,757h8v1h-8zM898,757h12v1h-12zM1035,757h9v1h-9zM1065,757h31v1h-31zM1169,757h23v1h-23zM772,758h26v1h-26zM808,758h12v1h-12zM823,758h7v1h-7zM900,758h38v1h-38zM1031,758h9v1h-9zM1073,758h26v1h-26zM1123,758h27v1h-27zM1161,758h33v1h-33zM772,759h2v1h-2zM813,759h14v1h-14zM909,759h37v1h-37zM1028,759h8v1h-8zM1095,759h7v1h-7zM1119,759h51v1h-51zM1191,759h5v1h-5zM1220,759h3v1h-3zM771,760h3v1h-3zM819,760h5v1h-5zM937,760h15v1h-15zM1025,760h7v1h-7zM1098,760h8v1h-8zM1115,760h9v1h-9zM1149,760h13v1h-13zM1193,760h5v1h-5zM1217,760h7v1h-7zM500,761h6v1h-6zM581,761h4v1h-4zM771,761h2v1h-2zM945,761h9v1h-9zM1023,761h6v1h-6zM1101,761h8v1h-8zM1111,761h9v1h-9zM1195,761h6v1h-6zM1213,761h8v1h-8zM1222,761h4v1h-4zM497,762h17v1h-17zM579,762h11v1h-11zM770,762h3v1h-3zM951,762h6v1h-6zM979,762h6v1h-6zM1020,762h6v1h-6zM1105,762h11v1h-11zM1197,762h6v1h-6zM1210,762h8v1h-8zM1223,762h4v1h-4zM495,763h6v1h-6zM505,763h31v1h-31zM577,763h5v1h-5zM584,763h12v1h-12zM769,763h3v1h-3zM953,763h7v1h-7zM975,763h15v1h-15zM1017,763h7v1h-7zM1108,763h4v1h-4zM1200,763h5v1h-5zM1207,763h7v1h-7zM1225,763h3v1h-3zM492,764h6v1h-6zM513,764h25v1h-25zM575,764h5v1h-5zM589,764h43v1h-43zM769,764h2v1h-2zM956,764h6v1h-6zM971,764h9v1h-9zM984,764h12v1h-12zM1015,764h6v1h-6zM1202,764h9v1h-9zM1226,764h4v1h-4zM489,765h7v1h-7zM535,765h5v1h-5zM573,765h5v1h-5zM595,765h41v1h-41zM768,765h3v1h-3zM959,765h6v1h-6zM967,765h9v1h-9zM989,765h29v1h-29zM1204,765h4v1h-4zM1227,765h4v1h-4zM487,766h6v1h-6zM537,766h5v1h-5zM572,766h4v1h-4zM631,766h9v1h-9zM768,766h2v1h-2zM961,766h11v1h-11zM995,766h21v1h-21zM1229,766h3v1h-3zM477,767h13v1h-13zM539,767h6v1h-6zM570,767h4v1h-4zM635,767h9v1h-9zM767,767h3v1h-3zM964,767h4v1h-4zM1230,767h4v1h-4zM469,768h19v1h-19zM541,768h6v1h-6zM568,768h5v1h-5zM639,768h8v1h-8zM766,768h3v1h-3zM1231,768h4v1h-4zM468,769h10v1h-10zM544,769h5v1h-5zM566,769h5v1h-5zM643,769h6v1h-6zM766,769h2v1h-2zM1233,769h3v1h-3zM467,770h3v1h-3zM546,770h23v1h-23zM646,770h5v1h-5zM765,770h3v1h-3zM1234,770h4v1h-4zM466,771h3v1h-3zM548,771h19v1h-19zM648,771h5v1h-5zM765,771h2v1h-2zM1235,771h4v1h-4zM465,772h3v1h-3zM650,772h4v1h-4zM764,772h3v1h-3zM1237,772h4v1h-4zM84,773h3v1h-3zM464,773h3v1h-3zM652,773h4v1h-4zM764,773h2v1h-2zM1238,773h4v1h-4zM1268,773h18v1h-18zM81,774h7v1h-7zM463,774h3v1h-3zM653,774h5v1h-5zM763,774h3v1h-3zM1240,774h4v1h-4zM1266,774h20v1h-20zM77,775h8v1h-8zM86,775h4v1h-4zM462,775h3v1h-3zM655,775h5v1h-5zM762,775h3v1h-3zM1241,775h5v1h-5zM1264,775h5v1h-5zM74,776h8v1h-8zM87,776h4v1h-4zM461,776h3v1h-3zM657,776h5v1h-5zM762,776h2v1h-2zM1243,776h4v1h-4zM1262,776h5v1h-5zM71,777h7v1h-7zM89,777h3v1h-3zM148,777h5v1h-5zM405,777h3v1h-3zM460,777h3v1h-3zM659,777h4v1h-4zM761,777h3v1h-3zM1245,777h4v1h-4zM1260,777h5v1h-5zM52,778h23v1h-23zM90,778h4v1h-4zM145,778h13v1h-13zM403,778h9v1h-9zM459,778h3v1h-3zM661,778h4v1h-4zM761,778h2v1h-2zM1246,778h4v1h-4zM1258,778h5v1h-5zM50,779h22v1h-22zM91,779h4v1h-4zM141,779h8v1h-8zM152,779h12v1h-12zM173,779h11v1h-11zM402,779h4v1h-4zM407,779h9v1h-9zM458,779h3v1h-3zM662,779h4v1h-4zM760,779h3v1h-3zM1248,779h4v1h-4zM1256,779h5v1h-5zM5,780h3v1h-3zM48,780h5v1h-5zM93,780h3v1h-3zM138,780h8v1h-8zM157,780h29v1h-29zM400,780h4v1h-4zM411,780h9v1h-9zM457,780h3v1h-3zM664,780h4v1h-4zM759,780h3v1h-3zM1249,780h10v1h-10zM5,781h5v1h-5zM46,781h5v1h-5zM94,781h4v1h-4zM135,781h7v1h-7zM163,781h11v1h-11zM183,781h6v1h-6zM399,781h4v1h-4zM415,781h26v1h-26zM456,781h3v1h-3zM665,781h5v1h-5zM759,781h2v1h-2zM1251,781h6v1h-6zM7,782h6v1h-6zM44,782h5v1h-5zM95,782h4v1h-4zM115,782h24v1h-24zM185,782h7v1h-7zM397,782h4v1h-4zM419,782h27v1h-27zM455,782h3v1h-3zM667,782h4v1h-4zM723,782h7v1h-7zM758,782h3v1h-3zM1253,782h2v1h-2zM9,783h7v1h-7zM42,783h5v1h-5zM97,783h3v1h-3zM109,783h27v1h-27zM188,783h6v1h-6zM396,783h4v1h-4zM440,783h12v1h-12zM454,783h3v1h-3zM669,783h4v1h-4zM717,783h21v1h-21zM758,783h2v1h-2zM12,784h6v1h-6zM40,784h5v1h-5zM98,784h4v1h-4zM104,784h12v1h-12zM191,784h6v1h-6zM395,784h3v1h-3zM445,784h11v1h-11zM670,784h4v1h-4zM712,784h12v1h-12zM729,784h31v1h-31zM15,785h6v1h-6zM38,785h5v1h-5zM99,785h11v1h-11zM193,785h6v1h-6zM393,785h4v1h-4zM451,785h4v1h-4zM672,785h4v1h-4zM707,785h11v1h-11zM737,785h22v1h-22zM17,786h24v1h-24zM101,786h4v1h-4zM196,786h5v1h-5zM392,786h4v1h-4zM673,786h5v1h-5zM703,786h10v1h-10zM20,787h19v1h-19zM198,787h5v1h-5zM390,787h4v1h-4zM675,787h7v1h-7zM699,787h9v1h-9zM200,788h5v1h-5zM389,788h4v1h-4zM677,788h13v1h-13zM695,788h9v1h-9zM202,789h5v1h-5zM244,789h4v1h-4zM388,789h3v1h-3zM681,789h19v1h-19zM204,790h5v1h-5zM241,790h9v1h-9zM386,790h4v1h-4zM689,790h7v1h-7zM206,791h5v1h-5zM239,791h6v1h-6zM247,791h5v1h-5zM385,791h4v1h-4zM208,792h5v1h-5zM236,792h6v1h-6zM249,792h5v1h-5zM384,792h3v1h-3zM210,793h8v1h-8zM233,793h7v1h-7zM251,793h6v1h-6zM383,793h3v1h-3zM212,794h14v1h-14zM231,794h6v1h-6zM253,794h6v1h-6zM381,794h4v1h-4zM217,795h17v1h-17zM256,795h5v1h-5zM380,795h4v1h-4zM225,796h7v1h-7zM258,796h5v1h-5zM379,796h3v1h-3zM260,797h5v1h-5zM378,797h3v1h-3zM262,798h5v1h-5zM377,798h3v1h-3zM264,799h5v1h-5zM375,799h4v1h-4zM266,800h4v1h-4zM374,800h4v1h-4zM268,801h4v1h-4zM365,801h11v1h-11zM269,802h5v1h-5zM340,802h35v1h-35zM271,803h5v1h-5zM338,803h28v1h-28zM273,804h5v1h-5zM336,804h5v1h-5zM275,805h5v1h-5zM334,805h5v1h-5zM277,806h6v1h-6zM332,806h5v1h-5zM279,807h7v1h-7zM330,807h5v1h-5zM282,808h8v1h-8zM328,808h5v1h-5zM285,809h8v1h-8zM326,809h5v1h-5zM289,810h40v1h-40zM292,811h35v1h-35z" fill="#1e90ff"/>
<rect x="5" y="842" width="1" height="3" fill="#000"/>
<rect x="69" y="842" width="1" height="3" fill="#000"/>
<rect x="133" y="842" width="1" height="3" fill="#000"/>
<rect x="197" y="842" width="1" height="3" fill="#000"/>
<rect x="261" y="842" width="1" height="3" fill="#000"/>
<rect x="325" y="842" width="1" height="3" fill="#000"/>
<rect x="389" y="842" width="1" height="3" fill="#000"/>
<rect x="453" y="842" width="1" height="3" fill="#000"/>
<rect x="517" y="842" width="1" height="3" fill="#000"/>
<rect x="581" y="842" width="1" height="3" fill="#000"/>
<rect x="645" y="842" width="1" height="3" fill="#000"/>
<rect x="709" y="842" width="1" height="3" fill="#000"/>
<rect x="773" y="842" width="1" height="3" fill="#000"/>
<rect x="837" y="842" width="1" height="3" fill="#000"/>
<rect x="901" y="842" width="1" height="3" fill="#000"/>
<rect x="965" y="842" width="1" height="3" fill="#000"/>
<rect x="1029" y="842" width="1" height="3" fill="#000"/>
<rect x="1093" y="842" width="1" height="3" fill="#000"/>
<rect x="1157" y="842" width="1" height="3" fill="#000"/>
<rect x="1221" y="842" width="1" height="3" fill="#000"/>
<rect x="1285" y="842" width="1" height="3" fill="#000"/>
</g>
<g font-family='"Liberation Sans", sans-serif' text-rendering="geometricPrecision">
<text x="1645.2" y="726" font-size="9.8" fill="#000" stroke="#000" stroke-width="0.3" textLength="15" lengthAdjust="spacingAndGlyphs">100</text>
<text x="1644" y="745" font-size="9.8" fill="#000" stroke="#000" stroke-width="0.3" textLength="10" lengthAdjust="spacingAndGlyphs">80</text>
<text x="1644" y="782" font-size="9.8" fill="#000" stroke="#000" stroke-width="0.3" textLength="10" lengthAdjust="spacingAndGlyphs">50</text>
<text x="1644.8" y="826" font-size="9.8" fill="#000" stroke="#000" stroke-width="0.3" textLength="10" lengthAdjust="spacingAndGlyphs">15</text>
<text x="1645" y="838" font-size="9.8" fill="#000" stroke="#000" stroke-width="0.3" textLength="5" lengthAdjust="spacingAndGlyphs">0</text>
<text x="4" y="854" font-size="9.8" fill="#000" stroke="#000" stroke-width="0.3" textLength="51" lengthAdjust="spacingAndGlyphs">31 Oct 2022</text>
<text x="68" y="854" font-size="9.8" fill="#000" stroke="#000" stroke-width="0.3" textLength="52" lengthAdjust="spacingAndGlyphs">1 Nov 04:00</text>
<text x="132" y="854" font-size="9.8" fill="#000" stroke="#000" stroke-width="0.3" textLength="52" lengthAdjust="spacingAndGlyphs">1 Nov 20:00</text>
<text x="196" y="854" font-size="9.8" fill="#000" stroke="#000" stroke-width="0.3" textLength="52" lengthAdjust="spacingAndGlyphs">2 Nov 12:00</text>
<text x="260" y="854" font-size="9.8" fill="#000" stroke="#000" stroke-width="0.3" textLength="52" lengthAdjust="spacingAndGlyphs">3 Nov 04:00</text>
<text x="324" y="854" font-size="9.8" fill="#000" stroke="#000" stroke-width="0.3" textLength="52" lengthAdjust="spacingAndGlyphs">3 Nov 20:00</text>
<text x="388" y="854" font-size="9.8" fill="#000" stroke="#000" stroke-width="0.3" textLength="52" lengthAdjust="spacingAndGlyphs">4 Nov 12:00</text>
<text x="452" y="854" font-size="9.8" fill="#000" stroke="#000" stroke-width="0.3" textLength="52" lengthAdjust="spacingAndGlyphs">7 Nov 04:00</text>
<text x="516" y="854" font-size="9.8" fill="#000" stroke="#000" stroke-width="0.3" textLength="52" lengthAdjust="spacingAndGlyphs">7 Nov 20:00</text>
<text x="580" y="854" font-size="9.8" fill="#000" stroke="#000" stroke-width="0.3" textLength="52" lengthAdjust="spacingAndGlyphs">8 Nov 12:00</text>
<text x="644" y="854" font-size="9.8" fill="#000" stroke="#000" stroke-width="0.3" textLength="52" lengthAdjust="spacingAndGlyphs">9 Nov 04:00</text>
<text x="708" y="854" font-size="9.8" fill="#000" stroke="#000" stroke-width="0.3" textLength="52" lengthAdjust="spacingAndGlyphs">9 Nov 20:00</text>
<text x="772" y="854" font-size="9.8" fill="#000" stroke="#000" stroke-width="0.3" textLength="57" lengthAdjust="spacingAndGlyphs">10 Nov 12:00</text>
<text x="836" y="854" font-size="9.8" fill="#000" stroke="#000" stroke-width="0.3" textLength="57" lengthAdjust="spacingAndGlyphs">11 Nov 04:00</text>
<text x="900" y="854" font-size="9.8" fill="#000" stroke="#000" stroke-width="0.3" textLength="57" lengthAdjust="spacingAndGlyphs">13 Nov 23:00</text>
<text x="964" y="854" font-size="9.8" fill="#000" stroke="#000" stroke-width="0.3" textLength="57" lengthAdjust="spacingAndGlyphs">14 Nov 12:00</text>
<text x="1028" y="854" font-size="9.8" fill="#000" stroke="#000" stroke-width="0.3" textLength="57" lengthAdjust="spacingAndGlyphs">15 Nov 04:00</text>
<text x="1092" y="854" font-size="9.8" fill="#000" stroke="#000" stroke-width="0.3" textLength="57" lengthAdjust="spacingAndGlyphs">15 Nov 20:00</text>
<text x="1156" y="854" font-size="9.8" fill="#000" stroke="#000" stroke-width="0.3" textLength="57" lengthAdjust="spacingAndGlyphs">16 Nov 12:00</text>
<text x="1220" y="854" font-size="9.8" fill="#000" stroke="#000" stroke-width="0.3" textLength="57" lengthAdjust="spacingAndGlyphs">17 Nov 04:00</text>
<text x="1284" y="854" font-size="9.8" fill="#000" stroke="#000" stroke-width="0.3" textLength="57" lengthAdjust="spacingAndGlyphs">17 Nov 20:00</text>
</g>
<defs><pattern id="chk" x="0" y="0" width="2" height="2" patternUnits="userSpaceOnUse"><rect width="2" height="2" fill="#ffffff"/><rect x="0" y="0" width="1" height="1" fill="#f0f0f0"/><rect x="1" y="1" width="1" height="1" fill="#f0f0f0"/></pattern><linearGradient id="gGreen" x1="0" y1="0" x2="1" y2="1"><stop offset="0" stop-color="#7dff7d"/><stop offset="0.5" stop-color="#12dc12"/><stop offset="1" stop-color="#08a808"/></linearGradient><linearGradient id="gGold" x1="0" y1="0" x2="1" y2="1"><stop offset="0" stop-color="#fff0a0"/><stop offset="0.45" stop-color="#f0c020"/><stop offset="1" stop-color="#c88a10"/></linearGradient><linearGradient id="gCloud" x1="0" y1="0" x2="0" y2="1"><stop offset="0" stop-color="#ffffff"/><stop offset="1" stop-color="#b4c4dc"/></linearGradient><linearGradient id="gBlue" x1="0" y1="0" x2="0" y2="1"><stop offset="0" stop-color="#2a7ae8"/><stop offset="1" stop-color="#0a9cf8"/></linearGradient><linearGradient id="gLens" x1="0" y1="0" x2="0" y2="1"><stop offset="0" stop-color="#c8e4f8"/><stop offset="1" stop-color="#eef8ff"/></linearGradient><linearGradient id="gBadge" x1="0" y1="0" x2="0" y2="1"><stop offset="0" stop-color="#ea6040"/><stop offset="1" stop-color="#d42010"/></linearGradient><radialGradient id="gRed" cx="0.4" cy="0.35" r="0.7"><stop offset="0" stop-color="#ff5030"/><stop offset="1" stop-color="#c81808"/></radialGradient><linearGradient id="gHat" x1="0" y1="0" x2="0" y2="1"><stop offset="0" stop-color="#7cc4f0"/><stop offset="1" stop-color="#3a98d0"/></linearGradient><linearGradient id="gTile" x1="0" y1="0" x2="0" y2="1"><stop offset="0" stop-color="#2a9a1a"/><stop offset="1" stop-color="#4ab830"/></linearGradient><linearGradient id="gTileB" x1="0" y1="0" x2="0" y2="1"><stop offset="0" stop-color="#1040c0"/><stop offset="1" stop-color="#3a78e8"/></linearGradient><linearGradient id="gSweep" x1="0" y1="0" x2="1" y2="1"><stop offset="0" stop-color="#d8ead0"/><stop offset="1" stop-color="#2fa02f"/></linearGradient><linearGradient id="gRing" x1="0" y1="0" x2="0.3" y2="1"><stop offset="0" stop-color="#3a9cf4"/><stop offset="0.5" stop-color="#1270dc"/><stop offset="1" stop-color="#0848a8"/></linearGradient><linearGradient id="gTitle" x1="0" y1="0" x2="1" y2="0"><stop offset="0" stop-color="#e8f2ff"/><stop offset="0.5" stop-color="#a8ccf4"/><stop offset="1" stop-color="#4a88d4"/></linearGradient></defs>
<g shape-rendering="crispEdges">
<rect x="2" y="0" width="1" height="20" fill="#a0a0a0"/>
<rect x="3" y="0" width="1" height="20" fill="#fafafa"/>
<rect x="238" y="0" width="1" height="22" fill="#a0a0a0"/>
<rect x="239" y="0" width="1" height="22" fill="#fcfcfc"/>
<rect x="242" y="0" width="3" height="1" fill="#a8a8a8"/>
<rect x="242" y="2" width="3" height="1" fill="#a8a8a8"/>
<rect x="242" y="4" width="3" height="1" fill="#a8a8a8"/>
<rect x="242" y="6" width="3" height="1" fill="#a8a8a8"/>
<rect x="242" y="8" width="3" height="1" fill="#a8a8a8"/>
<rect x="242" y="10" width="3" height="1" fill="#a8a8a8"/>
<rect x="242" y="12" width="3" height="1" fill="#a8a8a8"/>
<rect x="242" y="14" width="3" height="1" fill="#a8a8a8"/>
<rect x="242" y="16" width="3" height="1" fill="#a8a8a8"/>
<rect x="242" y="18" width="3" height="1" fill="#a8a8a8"/>
<rect x="606" y="0" width="1" height="22" fill="#a0a0a0"/>
<rect x="607" y="0" width="1" height="22" fill="#fcfcfc"/>
<rect x="610" y="0" width="3" height="1" fill="#a8a8a8"/>
<rect x="610" y="2" width="3" height="1" fill="#a8a8a8"/>
<rect x="610" y="4" width="3" height="1" fill="#a8a8a8"/>
<rect x="610" y="6" width="3" height="1" fill="#a8a8a8"/>
<rect x="610" y="8" width="3" height="1" fill="#a8a8a8"/>
<rect x="610" y="10" width="3" height="1" fill="#a8a8a8"/>
<rect x="610" y="12" width="3" height="1" fill="#a8a8a8"/>
<rect x="610" y="14" width="3" height="1" fill="#a8a8a8"/>
<rect x="610" y="16" width="3" height="1" fill="#a8a8a8"/>
<rect x="610" y="18" width="3" height="1" fill="#a8a8a8"/>
<rect x="912" y="0" width="1" height="22" fill="#a0a0a0"/>
<rect x="913" y="0" width="1" height="22" fill="#fcfcfc"/>
<rect x="916" y="0" width="3" height="1" fill="#a8a8a8"/>
<rect x="916" y="2" width="3" height="1" fill="#a8a8a8"/>
<rect x="916" y="4" width="3" height="1" fill="#a8a8a8"/>
<rect x="916" y="6" width="3" height="1" fill="#a8a8a8"/>
<rect x="916" y="8" width="3" height="1" fill="#a8a8a8"/>
<rect x="916" y="10" width="3" height="1" fill="#a8a8a8"/>
<rect x="916" y="12" width="3" height="1" fill="#a8a8a8"/>
<rect x="916" y="14" width="3" height="1" fill="#a8a8a8"/>
<rect x="916" y="16" width="3" height="1" fill="#a8a8a8"/>
<rect x="916" y="18" width="3" height="1" fill="#a8a8a8"/>
<rect x="1173" y="0" width="1" height="22" fill="#a0a0a0"/>
<rect x="1174" y="0" width="1" height="22" fill="#fcfcfc"/>
<rect x="276" y="0" width="1" height="20" fill="#9a9a9a"/>
<rect x="333" y="0" width="1" height="20" fill="#9a9a9a"/>
<rect x="423" y="0" width="1" height="20" fill="#9a9a9a"/>
<rect x="428" y="0" width="1" height="20" fill="#9a9a9a"/>
<rect x="456" y="0" width="1" height="20" fill="#9a9a9a"/>
<rect x="485" y="0" width="1" height="20" fill="#9a9a9a"/>
<rect x="616" y="0" width="1" height="20" fill="#9a9a9a"/>
<rect x="673" y="0" width="1" height="20" fill="#9a9a9a"/>
<rect x="1062" y="0" width="1" height="20" fill="#9a9a9a"/>
<rect x="277" y="0" width="24" height="20" fill="url(#chk)"/>
<rect x="277" y="20" width="25" height="2" fill="#fbfbfb"/>
<rect x="301" y="0" width="1" height="21" fill="#fbfbfb"/>
<rect x="429" y="0" width="24" height="20" fill="url(#chk)"/>
<rect x="429" y="20" width="25" height="2" fill="#fbfbfb"/>
<rect x="453" y="0" width="1" height="21" fill="#fbfbfb"/>
<rect x="457" y="0" width="24" height="20" fill="url(#chk)"/>
<rect x="457" y="20" width="25" height="2" fill="#fbfbfb"/>
<rect x="481" y="0" width="1" height="21" fill="#fbfbfb"/>
<rect x="617" y="0" width="24" height="20" fill="url(#chk)"/>
<rect x="617" y="20" width="25" height="2" fill="#fbfbfb"/>
<rect x="641" y="0" width="1" height="21" fill="#fbfbfb"/>
<rect x="1063" y="0" width="24" height="20" fill="url(#chk)"/>
<rect x="1063" y="20" width="25" height="2" fill="#fbfbfb"/>
<rect x="1087" y="0" width="1" height="21" fill="#fbfbfb"/>
<rect x="256" y="4" width="1" height="14" fill="#555555"/>
<rect x="255" y="5" width="3" height="1" fill="#555555"/>
<rect x="254" y="15" width="14" height="1" fill="#555555"/>
<rect x="266" y="14" width="1" height="3" fill="#555555"/>
<rect x="284" y="4" width="1" height="14" fill="#555555"/>
<rect x="283" y="5" width="3" height="1" fill="#555555"/>
<rect x="282" y="15" width="14" height="1" fill="#555555"/>
<rect x="294" y="14" width="1" height="3" fill="#555555"/>
<rect x="312" y="4" width="1" height="14" fill="#555555"/>
<rect x="311" y="5" width="3" height="1" fill="#555555"/>
<rect x="310" y="15" width="14" height="1" fill="#555555"/>
<rect x="322" y="14" width="1" height="3" fill="#555555"/>
<rect x="436" y="4" width="1" height="14" fill="#555555"/>
<rect x="435" y="5" width="3" height="1" fill="#555555"/>
<rect x="434" y="15" width="14" height="1" fill="#555555"/>
<rect x="446" y="14" width="1" height="3" fill="#555555"/>
<rect x="464" y="4" width="1" height="14" fill="#555555"/>
<rect x="463" y="5" width="3" height="1" fill="#555555"/>
<rect x="462" y="15" width="14" height="1" fill="#555555"/>
<rect x="474" y="14" width="1" height="3" fill="#555555"/>
<rect x="262" y="5" width="1" height="9" fill="#0a8c0a"/>
<rect x="263" y="6" width="2" height="1" fill="#0a8c0a"/>
<rect x="260" y="12" width="2" height="1" fill="#0a8c0a"/>
<rect x="290" y="2" width="1" height="12" fill="#0a8c0a"/>
<rect x="288" y="4" width="5" height="8" fill="#0a8c0a"/>
<rect x="289" y="5" width="3" height="6" fill="url(#gGreen)"/>
<polygon points="441,6 445,9.5 441,13" fill="#2fd02f" stroke="#0a8c0a" stroke-width="1" shape-rendering="auto"/>
<rect x="470" y="4" width="1" height="10" fill="#1a78c8"/>
<polygon points="471.5,9.5 474.5,7 474.5,12" fill="#e85a10" shape-rendering="auto"/>
<rect x="474" y="9" width="3" height="1" fill="#e85a10"/>
<rect x="656" y="3" width="1" height="6" fill="#555555"/>
<rect x="656" y="12" width="1" height="6" fill="#555555"/>
<rect x="649" y="10" width="6" height="1" fill="#555555"/>
<rect x="658" y="10" width="6" height="1" fill="#555555"/>
<rect x="656" y="10" width="1" height="1" fill="#8a8a8a"/>
<rect x="690" y="4" width="1" height="13" fill="#555555"/>
<rect x="713" y="10" width="12" height="1" fill="#555555"/>
<rect x="796" y="3" width="1" height="1" fill="#555555"/>
<rect x="798" y="3" width="1" height="1" fill="#555555"/>
<rect x="800" y="3" width="1" height="1" fill="#555555"/>
<rect x="802" y="3" width="1" height="1" fill="#555555"/>
<rect x="804" y="3" width="1" height="1" fill="#555555"/>
<rect x="806" y="3" width="1" height="1" fill="#555555"/>
<rect x="808" y="3" width="1" height="1" fill="#555555"/>
<rect x="796" y="6" width="1" height="1" fill="#555555"/>
<rect x="798" y="6" width="1" height="1" fill="#555555"/>
<rect x="800" y="6" width="1" height="1" fill="#555555"/>
<rect x="802" y="6" width="1" height="1" fill="#555555"/>
<rect x="804" y="6" width="1" height="1" fill="#555555"/>
<rect x="806" y="6" width="1" height="1" fill="#555555"/>
<rect x="808" y="6" width="1" height="1" fill="#555555"/>
<rect x="796" y="10" width="1" height="1" fill="#555555"/>
<rect x="798" y="10" width="1" height="1" fill="#555555"/>
<rect x="800" y="10" width="1" height="1" fill="#555555"/>
<rect x="802" y="10" width="1" height="1" fill="#555555"/>
<rect x="804" y="10" width="1" height="1" fill="#555555"/>
<rect x="806" y="10" width="1" height="1" fill="#555555"/>
<rect x="808" y="10" width="1" height="1" fill="#555555"/>
<rect x="796" y="14" width="1" height="1" fill="#555555"/>
<rect x="798" y="14" width="1" height="1" fill="#555555"/>
<rect x="800" y="14" width="1" height="1" fill="#555555"/>
<rect x="802" y="14" width="1" height="1" fill="#555555"/>
<rect x="804" y="14" width="1" height="1" fill="#555555"/>
<rect x="853" y="4" width="1" height="1" fill="#555555"/>
<rect x="853" y="16" width="1" height="1" fill="#555555"/>
<rect x="855" y="4" width="1" height="1" fill="#555555"/>
<rect x="855" y="16" width="1" height="1" fill="#555555"/>
<rect x="857" y="4" width="1" height="1" fill="#555555"/>
<rect x="857" y="16" width="1" height="1" fill="#555555"/>
<rect x="859" y="4" width="1" height="1" fill="#555555"/>
<rect x="859" y="16" width="1" height="1" fill="#555555"/>
<rect x="861" y="4" width="1" height="1" fill="#555555"/>
<rect x="861" y="16" width="1" height="1" fill="#555555"/>
<rect x="863" y="4" width="1" height="1" fill="#555555"/>
<rect x="863" y="16" width="1" height="1" fill="#555555"/>
<rect x="853" y="4" width="1" height="1" fill="#555555"/>
<rect x="864" y="4" width="1" height="1" fill="#555555"/>
<rect x="853" y="6" width="1" height="1" fill="#555555"/>
<rect x="864" y="6" width="1" height="1" fill="#555555"/>
<rect x="853" y="8" width="1" height="1" fill="#555555"/>
<rect x="864" y="8" width="1" height="1" fill="#555555"/>
<rect x="853" y="10" width="1" height="1" fill="#555555"/>
<rect x="864" y="10" width="1" height="1" fill="#555555"/>
<rect x="853" y="12" width="1" height="1" fill="#555555"/>
<rect x="864" y="12" width="1" height="1" fill="#555555"/>
<rect x="853" y="14" width="1" height="1" fill="#555555"/>
<rect x="864" y="14" width="1" height="1" fill="#555555"/>
<rect x="853" y="16" width="1" height="1" fill="#555555"/>
<rect x="864" y="16" width="1" height="1" fill="#555555"/>
<rect x="855" y="7" width="8" height="1" fill="#555555"/>
<rect x="858" y="7" width="2" height="8" fill="#555555"/>
</g>
<path d="M311,13 C314,12 315,7.5 318,7.5 C320,7.5 320.5,10 323,11" fill="none" stroke="#2a962a" stroke-width="1.2"/>
<line x1="741" y1="17" x2="753" y2="5" stroke="#555555" stroke-width="1"/>
<g stroke="#555555" stroke-width="1" fill="none"><line x1="766.6" y1="11.6" x2="774.8" y2="4"/><line x1="771.8" y1="16.8" x2="781.3" y2="8.5"/><line x1="767.4" y1="15.4" x2="780.2" y2="4.8" stroke-width="0.9"/><line x1="768.9" y1="16.6" x2="770.2" y2="9.4"/><line x1="771.9" y1="14.6" x2="773.5" y2="7.8"/><line x1="775.2" y1="12" x2="776.4" y2="5.5"/><line x1="778.6" y1="9" x2="779" y2="2.2"/></g>
<polygon points="624,3 624,14 626.7,11.6 629,17 631,16.2 628.7,10.8 632,10.6" fill="#555555"/>
<g fill="#555555"><polygon points="883.5,3.8 880.2,7.5 886.8,7.5"/><rect x="881.9" y="7.3" width="3.2" height="1.5"/><polygon points="890.6,17 887.2,13.1 894,13.1"/><rect x="889" y="11.7" width="3.2" height="1.5"/><polyline points="882.5,11.5 884.5,13.5 889,8" fill="none" stroke="#555555" stroke-width="1.4"/></g>
<g shape-rendering="crispEdges"><rect x="517" y="9" width="5" height="1" fill="#000"/><rect x="518" y="10" width="3" height="1" fill="#000"/><rect x="519" y="11" width="1" height="1" fill="#000"/></g>
<g shape-rendering="crispEdges"><rect x="556" y="9" width="5" height="1" fill="#000"/><rect x="557" y="10" width="3" height="1" fill="#000"/><rect x="558" y="11" width="1" height="1" fill="#000"/></g>
<g shape-rendering="crispEdges"><rect x="595" y="9" width="5" height="1" fill="#000"/><rect x="596" y="10" width="3" height="1" fill="#000"/><rect x="597" y="11" width="1" height="1" fill="#000"/></g>
<g shape-rendering="crispEdges"><rect x="901" y="9" width="5" height="1" fill="#000"/><rect x="902" y="10" width="3" height="1" fill="#000"/><rect x="903" y="11" width="1" height="1" fill="#000"/></g>
<path d="M12.5,2.5 h8 l3,3 v10 h-11 z" fill="#ffffff" stroke="#7a7a7a" stroke-width="1"/><path d="M20.5,2.5 v3 h3" fill="#e8e8e8" stroke="#7a7a7a" stroke-width="1"/>
<g shape-rendering="crispEdges">
<rect x="14" y="4" width="3" height="2" fill="#a0a0a0"/>
<rect x="14" y="8" width="6" height="1" fill="#a8a8a8"/>
<rect x="14" y="10" width="5" height="1" fill="#a8a8a8"/>
<rect x="14" y="12" width="3" height="1" fill="#a8a8a8"/>
</g>
<path d="M20.5,8.5 h3 v4 h4 v3 h-4 v4 h-3 v-4 h-4 v-3 h4 z" fill="url(#gGreen)" stroke="#0b8a0b" stroke-width="1"/>
<path d="M495.5,2.5 h8 l3,3 v10 h-11 z" fill="#ffffff" stroke="#7a7a7a" stroke-width="1"/><path d="M503.5,2.5 v3 h3" fill="#e8e8e8" stroke="#7a7a7a" stroke-width="1"/>
<text x="496.5" y="12.5" font-family='"Liberation Serif", serif' font-style="italic" font-size="11" fill="#555">f</text>
<path d="M503.5,8.5 h3 v4 h4 v3 h-4 v4 h-3 v-4 h-4 v-3 h4 z" fill="url(#gGreen)" stroke="#0b8a0b" stroke-width="1"/>
<g><polygon points="84.6,3 94.8,10.6 94.8,12.2 87,18 79,12.6 79,11.2 83,7.8" fill="url(#gGold)" stroke="#b87a12" stroke-width="1" stroke-linejoin="round"/><polyline points="79.5,11.5 87,16.2 94.5,10.8" fill="none" stroke="#fff4b0" stroke-width="0.9"/><polyline points="83.2,7.8 84.8,3.4" fill="none" stroke="#a86a10" stroke-width="1"/></g>
<g><path d="M109.5,3 L113,2 L120,3.5 V11 H109.5 Z" fill="url(#gBlue)" stroke="#1a6ad8" stroke-width="0.6"/><path d="M109.5,3 L113.5,5 V11 M113.5,5 L120,3.8" fill="none" stroke="#e8f6ff" stroke-width="0.9"/><rect x="115" y="6.5" width="4" height="1.2" fill="#e8f6ff"/><path d="M109.2,17.5 C106.2,17.5 106,13.2 108.8,12.6 C109.2,10.8 112.2,10.6 112.9,12.1 C113.8,9.7 117.9,9.5 118.8,11.9 C120.8,10.9 123.4,12.5 122.5,14.4 C123.8,15.6 123,17.5 121,17.5 Z" fill="url(#gCloud)" stroke="#4a66a0" stroke-width="1"/></g>
<g fill="none"><path d="M143.2,9.8 L143.2,17.8 A8,8 0 0 0 143.2,1.8 Z" fill="url(#gSweep)" opacity="0.85"/><circle cx="143" cy="9.7" r="7.4" stroke="#5a86d8" stroke-width="1" opacity="0.75"/><circle cx="143" cy="9.7" r="4.6" stroke="#6a90dc" stroke-width="1" opacity="0.7"/><circle cx="142.8" cy="9.6" r="2" fill="#2456d0"/><rect x="143" y="10" width="1.4" height="7.8" fill="#1fa01f"/></g>
<g><polygon points="162.5,9.5 177.5,8.5 170,18" fill="#f4d648" stroke="#d0a020" stroke-width="0.8"/><ellipse cx="170" cy="6.9" rx="8" ry="2.5" transform="rotate(-6 170 6.9)" fill="url(#gHat)" stroke="#2383b4" stroke-width="1"/><path d="M166,6.6 C166,1.4 173.6,1.2 173.8,5.8 C172,7.4 168,7.6 166,6.6 Z" fill="#74c0ee" stroke="#2383b4" stroke-width="0.9"/><circle cx="174.4" cy="13.7" r="4.2" fill="url(#gRed)"/><rect x="172.9" y="12.2" width="3.1" height="3.1" fill="#ffffff"/></g>
<g><line x1="352.2" y1="12.2" x2="356.6" y2="16.2" stroke="#b89020" stroke-width="3.2" stroke-linecap="round"/><line x1="352.4" y1="12.2" x2="356.4" y2="16" stroke="#f0d860" stroke-width="1.4" stroke-linecap="round"/><circle cx="348" cy="7.8" r="5.4" fill="url(#gLens)" stroke="#2a78d0" stroke-width="1.3"/><rect x="345" y="7.1" width="6" height="1.6" fill="#3a86b8"/><rect x="347.2" y="4.8" width="1.6" height="6" fill="#3a86b8"/></g>
<g><line x1="380.2" y1="12.2" x2="384.6" y2="16.2" stroke="#b89020" stroke-width="3.2" stroke-linecap="round"/><line x1="380.4" y1="12.2" x2="384.4" y2="16" stroke="#f0d860" stroke-width="1.4" stroke-linecap="round"/><circle cx="376" cy="7.8" r="5.4" fill="url(#gLens)" stroke="#2a78d0" stroke-width="1.3"/><rect x="373" y="7.1" width="6" height="1.6" fill="#3a86b8"/></g>
<rect x="398" y="2" width="8" height="8" rx="0.8" fill="url(#gTile)"/><rect x="399.2" y="4.8" width="5.6" height="4.2" fill="#ffffff"/><rect x="400.5" y="6.2" width="3" height="1" fill="#a8d898"/><rect x="399" y="3" width="1" height="1" fill="#e0f0ff" opacity="0.8"/>
<rect x="406" y="2" width="8" height="8" rx="0.8" fill="url(#gTileB)"/><rect x="407.2" y="4.8" width="5.6" height="4.2" fill="#ffffff"/><rect x="408.5" y="6.2" width="3" height="1" fill="#a0b8f0"/><rect x="407" y="3" width="1" height="1" fill="#e0f0ff" opacity="0.8"/>
<rect x="398" y="10" width="8" height="8" rx="0.8" fill="url(#gTileB)"/><rect x="399.2" y="12.8" width="5.6" height="4.2" fill="#ffffff"/><rect x="400.5" y="14.2" width="3" height="1" fill="#a0b8f0"/><rect x="399" y="11" width="1" height="1" fill="#e0f0ff" opacity="0.8"/>
<rect x="406" y="10" width="8" height="8" rx="0.8" fill="url(#gTile)"/><rect x="407.2" y="12.8" width="5.6" height="4.2" fill="#ffffff"/><rect x="408.5" y="14.2" width="3" height="1" fill="#a8d898"/><rect x="407" y="11" width="1" height="1" fill="#e0f0ff" opacity="0.8"/>
<g><circle cx="541" cy="9.8" r="7.9" fill="url(#gRing)"/><circle cx="541" cy="9.8" r="5.2" fill="#eceef2" stroke="#b8c6dc" stroke-width="0.7"/><path d="M540.4,6.6 V10.1 H543.4" fill="none" stroke="#222" stroke-width="1"/><g fill="#888"><rect x="540.6" y="5.2" width="0.8" height="0.9"/><rect x="544.6" y="9.4" width="0.9" height="0.8"/><rect x="536.5" y="9.4" width="0.9" height="0.8"/><rect x="537.6" y="6.4" width="0.8" height="0.8"/><rect x="543.6" y="6.4" width="0.8" height="0.8"/><rect x="537.8" y="12.6" width="0.8" height="0.8"/><rect x="543.4" y="12.6" width="0.8" height="0.8"/></g><rect x="540.2" y="12.6" width="1.6" height="0.8" fill="#6aa8f0"/></g>
<g shape-rendering="crispEdges">
<rect x="572" y="3" width="16" height="14" fill="#3a7ac8"/>
<rect x="573" y="4" width="14" height="2" fill="url(#gTitle)"/>
<rect x="573" y="6" width="14" height="5" fill="#ffffff"/>
<rect x="573" y="11" width="14" height="1" fill="#9cc0ee"/>
<rect x="573" y="12" width="14" height="4" fill="#ffffff"/>
</g>
<polyline points="574.3,9.4 576.3,9.4 578,8.4 580,7.5 581.8,8.5 584,8.5 586,7.4" fill="none" stroke="#a42a08" stroke-width="1.1"/><polyline points="575.3,14.3 577,14.3 578.6,13.5 580,14.5 581.6,14.5 583.6,12.5 584.6,12.5 586.2,14.6" fill="none" stroke="#1a8a1a" stroke-width="1.1"/>
<g><line x1="1640.3" y1="10.8" x2="1636" y2="15" stroke="#2a5ad0" stroke-width="2.4" stroke-linecap="round"/><circle cx="1643.6" cy="7.3" r="3.9" fill="#f4f4fc" stroke="#2a5ad0" stroke-width="1.1"/><path d="M1661,12 C1660,8 1664,7 1668,7.5 C1673,8 1673,15.5 1668,16.3 L1665,16.5 L1663.5,18.5 L1663.3,16 C1661.5,15.5 1661,14 1661,12 Z" fill="#e2e4ec" stroke="#a6a8ae" stroke-width="0.9"/><circle cx="1674.6" cy="7.1" r="8.3" fill="url(#gBadge)"/></g>
<g font-family='"Liberation Sans", "Noto Sans CJK SC", sans-serif'>
<text x="31.2" y="13.2" font-size="11.6" letter-spacing="0.4" fill="#000" stroke="#000" stroke-width="0.25">新订单</text>
<text x="183.6" y="13.2" font-size="11.6" letter-spacing="0.4" fill="#000" stroke="#000" stroke-width="0.25">自动交易</text>
<text x="1670.3" y="12" font-size="12.5" fill="#fff" textLength="6.6" lengthAdjust="spacingAndGlyphs">1</text>
<g text-rendering="geometricPrecision" fill="#3c3c3c" font-size="9.8">
<text x="927.0" y="14" textLength="13.6" lengthAdjust="spacingAndGlyphs">M1</text>
<text x="955.1" y="14" textLength="13.5" lengthAdjust="spacingAndGlyphs">M5</text>
<text x="981.2" y="14" textLength="18.3" lengthAdjust="spacingAndGlyphs">M15</text>
<text x="1008.9" y="14" textLength="18.7" lengthAdjust="spacingAndGlyphs">M30</text>
<text x="1040.0" y="14" textLength="12.5" lengthAdjust="spacingAndGlyphs">H1</text>
<text x="1067.0" y="14" textLength="13.4" lengthAdjust="spacingAndGlyphs">H4</text>
<text x="1096.0" y="14" textLength="12.6" lengthAdjust="spacingAndGlyphs">D1</text>
<text x="1123.6" y="14" textLength="15.2" lengthAdjust="spacingAndGlyphs">W1</text>
<text x="1150.0" y="14" textLength="15.9" lengthAdjust="spacingAndGlyphs">MN</text>
</g>
<text x="826.9" y="15" font-size="12.2" fill="#555555" stroke="#555555" stroke-width="0.3" textLength="7.7" lengthAdjust="spacingAndGlyphs" text-rendering="geometricPrecision">A</text>
<text x="777.6" y="18.8" font-size="7" font-weight="bold" fill="#333">E</text>
<text x="805.6" y="18.8" font-size="7" font-weight="bold" fill="#333">F</text>
</g>
</svg>
</body>
</html>
